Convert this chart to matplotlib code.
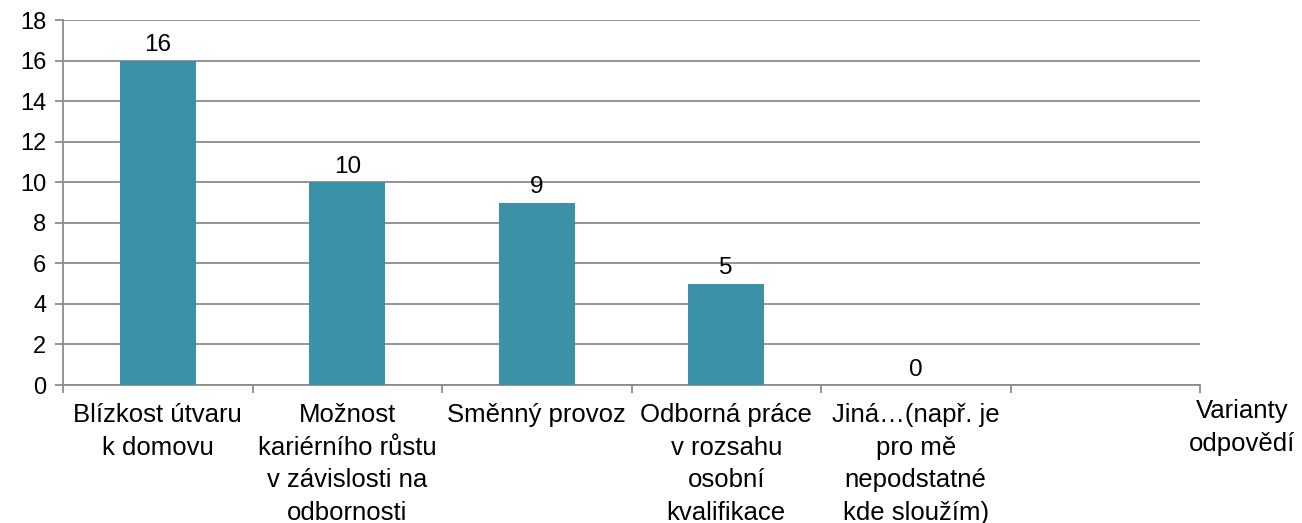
import matplotlib
matplotlib.use("Agg")
import matplotlib.pyplot as plt

categories = ["Blízkost útvaru\nk domovu",
              "Možnost\nkariérního růstu\nv závislosti na\nodbornosti",
              "Směnný provoz",
              "Odborná práce\nv rozsahu\nosobní\nkvalifikace",
              "Jiná…(např. je\npro mě\nnepodstatné\nkde sloužím)",
              ""]
values = [16, 10, 9, 5, 0, None]
yticks = [0, 2, 4, 6, 8, 10, 12, 14, 16, 18]
axis_title = "Varianty\nodpovědí"

plt.rcParams['font.family'] = ['Liberation Sans', 'DejaVu Sans']
fig = plt.figure(figsize=(13.02, 5.23), dpi=100)
ax = fig.add_axes([63/1302, 1-385/523, (1200-63)/1302, (385-20)/523])

bar_color = "#3A91A8"
grid_color = "#8C8C8C"
xs = [i for i, v in enumerate(values) if v is not None]
vs = [v for v in values if v is not None]
ax.bar(xs, vs, width=0.4, color=bar_color, zorder=3)
for x, v in zip(xs, vs):
    ax.annotate(str(v), (x, v), xytext=(0, 3), textcoords="offset points",
                ha="center", va="bottom", fontsize=17.5, color="black", zorder=4)

ax.set_xlim(-0.5, len(categories) - 0.5)
ax.set_ylim(0, 18)
ax.set_yticks(yticks)
ax.yaxis.grid(True, color=grid_color, linewidth=1.3, zorder=0)
ax.set_axisbelow(True)
for s in ["top", "right"]:
    ax.spines[s].set_visible(False)
for s in ["left", "bottom"]:
    ax.spines[s].set_color(grid_color)
    ax.spines[s].set_linewidth(1.3)

# category boundaries as ticks
ax.set_xticks([i - 0.5 for i in range(len(categories) + 1)])
ax.set_xticklabels([])
ax.tick_params(axis="x", length=6, color=grid_color, width=1.3)
ax.tick_params(axis="y", length=6, color=grid_color, width=1.3, labelsize=17, pad=6)

for i, c in enumerate(categories):
    ax.text(i, -0.9, c, ha="center", va="top", fontsize=18.5, linespacing=1.45,
            transform=ax.transData)

fig.text(1242/1302, 1-399/523, axis_title, ha="center", va="top", fontsize=18.5, linespacing=1.45)

fig.savefig("out.png", dpi=100)
